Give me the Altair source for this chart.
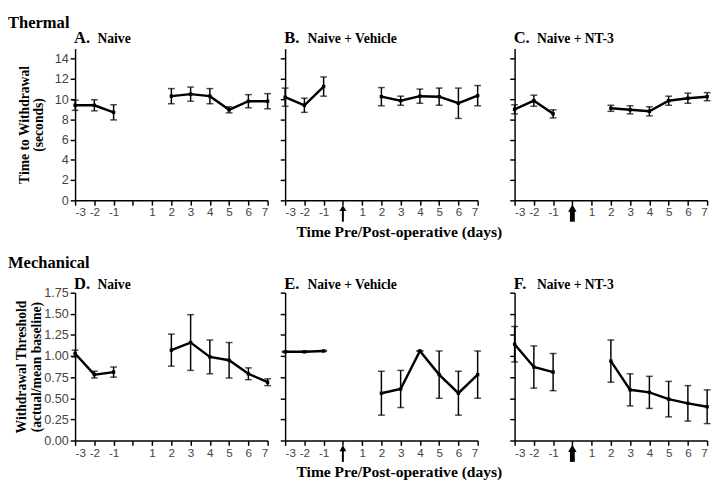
import altair as alt
import pandas as pd

days = [-3, -2, -1, 2, 3, 4, 5, 6, 7]
phase = ["pre", "pre", "pre", "post", "post", "post", "post", "post", "post"]
x_ticks = [-3, -2, -1, 0, 1, 2, 3, 4, 5, 6, 7]

thermal_naive = [9.4, 9.4, 8.7, 10.3, 10.5, 10.3, 8.95, 9.8, 9.8]
thermal_naive_err = [0.5, 0.55, 0.75, 0.75, 0.7, 0.75, 0.3, 0.65, 0.75]
thermal_vehicle = [10.2, 9.4, 11.25, 10.25, 9.85, 10.3, 10.25, 9.6, 10.35]
thermal_vehicle_err = [0.9, 0.7, 0.95, 0.9, 0.45, 0.7, 0.85, 1.5, 1.0]
thermal_nt3 = [9.0, 9.85, 8.55, 9.1, 8.95, 8.8, 9.85, 10.1, 10.25]
thermal_nt3_err = [0.45, 0.55, 0.4, 0.3, 0.4, 0.45, 0.45, 0.5, 0.4]

mech_naive = [1.03, 0.78, 0.81, 1.07, 1.16, 0.99, 0.95, 0.79, 0.69]
mech_naive_err = [0.04, 0.04, 0.06, 0.19, 0.33, 0.2, 0.21, 0.07, 0.04]
mech_vehicle = [1.05, 1.05, 1.06, 0.56, 0.61, 1.06, 0.78, 0.56, 0.78]
mech_vehicle_err = [0.005, 0.005, 0.005, 0.26, 0.22, 0.0, 0.28, 0.26, 0.28]
mech_nt3 = [1.14, 0.87, 0.81, 0.94, 0.60, 0.57, 0.49, 0.44, 0.40]
mech_nt3_err = [0.21, 0.25, 0.22, 0.25, 0.19, 0.19, 0.21, 0.21, 0.20]

thermal_y_ticks = [0, 2, 4, 6, 8, 10, 12, 14]
mech_y_ticks = [0, 0.25, 0.5, 0.75, 1.0, 1.25, 1.5, 1.75]

SERIF = "Liberation Serif, Times New Roman, serif"
LABELF = "Liberation Sans, Arial, sans-serif"
W = 198


def make_df(vals, errs):
    return pd.DataFrame({
        "day": days,
        "phase": phase,
        "value": vals,
        "lo": [v - e for v, e in zip(vals, errs)],
        "hi": [v + e for v, e in zip(vals, errs)],
    })


def panel(vals, errs, letter, name, h, ymax, yticks, yfmt, left, ytitle,
          xtitle, arrow, row_title, title_dy, row_dy, ytx):
    d = make_df(vals, errs)
    xaxis = alt.Axis(values=x_ticks, labelExpr="datum.value == 0 ? '' : '' + datum.value",
                     labelOverlap=False, labelFontSize=12,
                     title=xtitle if xtitle else None,
                     titleX=117, titleY=37, titleBaseline="alphabetic",
                     titleFont=SERIF, titleFontSize=16, titleFontWeight="bold")
    x = alt.X("day:Q", scale=alt.Scale(domain=[-3, 7], nice=False, zero=False), axis=xaxis)
    if left:
        yaxis = alt.Axis(values=yticks, format=yfmt, title=ytitle, titleX=ytx,
                         labelOverlap=False,
                         titleY=h / 2, titleAngle=270, titleBaseline="top",
                         titleAlign="center", titleLineHeight=15,
                         titleFont=SERIF, titleFontSize=14, titleFontWeight="bold")
    else:
        yaxis = alt.Axis(values=yticks, labels=False, title=None)
    yscale = alt.Scale(domain=[0, ymax], nice=False)

    def Y(field):
        return alt.Y(field, scale=yscale, axis=yaxis)

    base = alt.Chart(d)
    line = base.mark_line(color="black", strokeWidth=2.5).encode(
        x=x, y=Y("value:Q"), detail="phase:N")
    bars = base.mark_rule(color="black", strokeWidth=1.5).encode(
        x=x, y=Y("lo:Q"), y2="hi:Q")
    cap_lo = base.mark_tick(color="black", orient="horizontal", size=7, thickness=1.5).encode(
        x=x, y=Y("lo:Q"))
    cap_hi = base.mark_tick(color="black", orient="horizontal", size=7, thickness=1.5).encode(
        x=x, y=Y("hi:Q"))
    pts = base.mark_point(shape="square", filled=True, size=12, color="black", opacity=1).encode(
        x=x, y=Y("value:Q"))

    tdf = pd.DataFrame({"t": [letter], "n": [name]})
    t1 = alt.Chart(tdf).mark_text(font=SERIF, fontSize=17, fontWeight="bold", align="left",
                                  baseline="alphabetic", color="black").encode(
        text="t:N", x=alt.value(-1), y=alt.value(title_dy))
    t2 = alt.Chart(tdf).mark_text(font=SERIF, fontSize=14, fontWeight="bold", align="left",
                                  baseline="alphabetic", color="black").encode(
        text="n:N", x=alt.value(23), y=alt.value(title_dy))
    layers = [line, bars, cap_lo, cap_hi, pts, t1, t2]

    if arrow:
        adf = pd.DataFrame({"day": [0]})
        thick = arrow == "thick"
        shaft = alt.Chart(adf).mark_rule(color="black", strokeWidth=5 if thick else 2).encode(
            x=x, y=alt.value(h + 10), y2=alt.value(h + 22))
        head = alt.Chart(adf).mark_point(shape="triangle-up", filled=True, color="black",
                                         opacity=1, size=75 if thick else 50).encode(
            x=x, y=alt.value(h + 8))
        layers += [shaft, head]

    if row_title:
        rdf = pd.DataFrame({"r": [row_title]})
        rt = alt.Chart(rdf).mark_text(font=SERIF, fontSize=17, fontWeight="bold", align="left",
                                      baseline="alphabetic", color="black").encode(
            text="r:N", x=alt.value(-69), y=alt.value(row_dy))
        layers.append(rt)

    return alt.layer(*layers).properties(width=W, height=h)


HT, HB = 156, 152
xt = "Time Pre/Post-operative (days)"

top = alt.hconcat(
    panel(thermal_naive, thermal_naive_err, "A.", "Naive", HT, 15, thermal_y_ticks, "d",
          True, ["Time to Withdrawal", "(seconds)"], None, None, "Thermal", -6, -21, -59),
    panel(thermal_vehicle, thermal_vehicle_err, "B.", "Naive + Vehicle", HT, 15, thermal_y_ticks,
          "d", False, None, xt, "thin", None, -6, 0, 0),
    panel(thermal_nt3, thermal_nt3_err, "C.", "Naive + NT-3", HT, 15, thermal_y_ticks, "d",
          False, None, None, "thick", None, -6, 0, 0),
    spacing=7,
)
bottom = alt.hconcat(
    panel(mech_naive, mech_naive_err, "D.", "Naive", HB, 1.75, mech_y_ticks, ".2f",
          True, ["Withdrawal Threshold", "(actual/mean baseline)"], None, None, "Mechanical",
          -4, -25, -62),
    panel(mech_vehicle, mech_vehicle_err, "E.", "Naive + Vehicle", HB, 1.75, mech_y_ticks, ".2f",
          False, None, xt, "thin", None, -4, 0, 0),
    panel(mech_nt3, mech_nt3_err, "F.", "Naive + NT-3", HB, 1.75, mech_y_ticks, ".2f",
          False, None, None, "thick", None, -4, 0, 0),
    spacing=7,
)

chart = alt.vconcat(top, bottom, spacing=16).properties(
    padding={"left": 0, "top": 0, "right": 0, "bottom": 0}
).configure_view(stroke=None).configure_axis(
    grid=False,
    domainColor="black",
    domainWidth=1.5,
    tickColor="black",
    tickWidth=1.5,
    tickSize=5,
    labelFont=LABELF,
    labelFontSize=13,
    labelColor="#444444",
    labelPadding=2,
)

chart.save("out.html", embed_options={"renderer": "svg", "actions": False})
